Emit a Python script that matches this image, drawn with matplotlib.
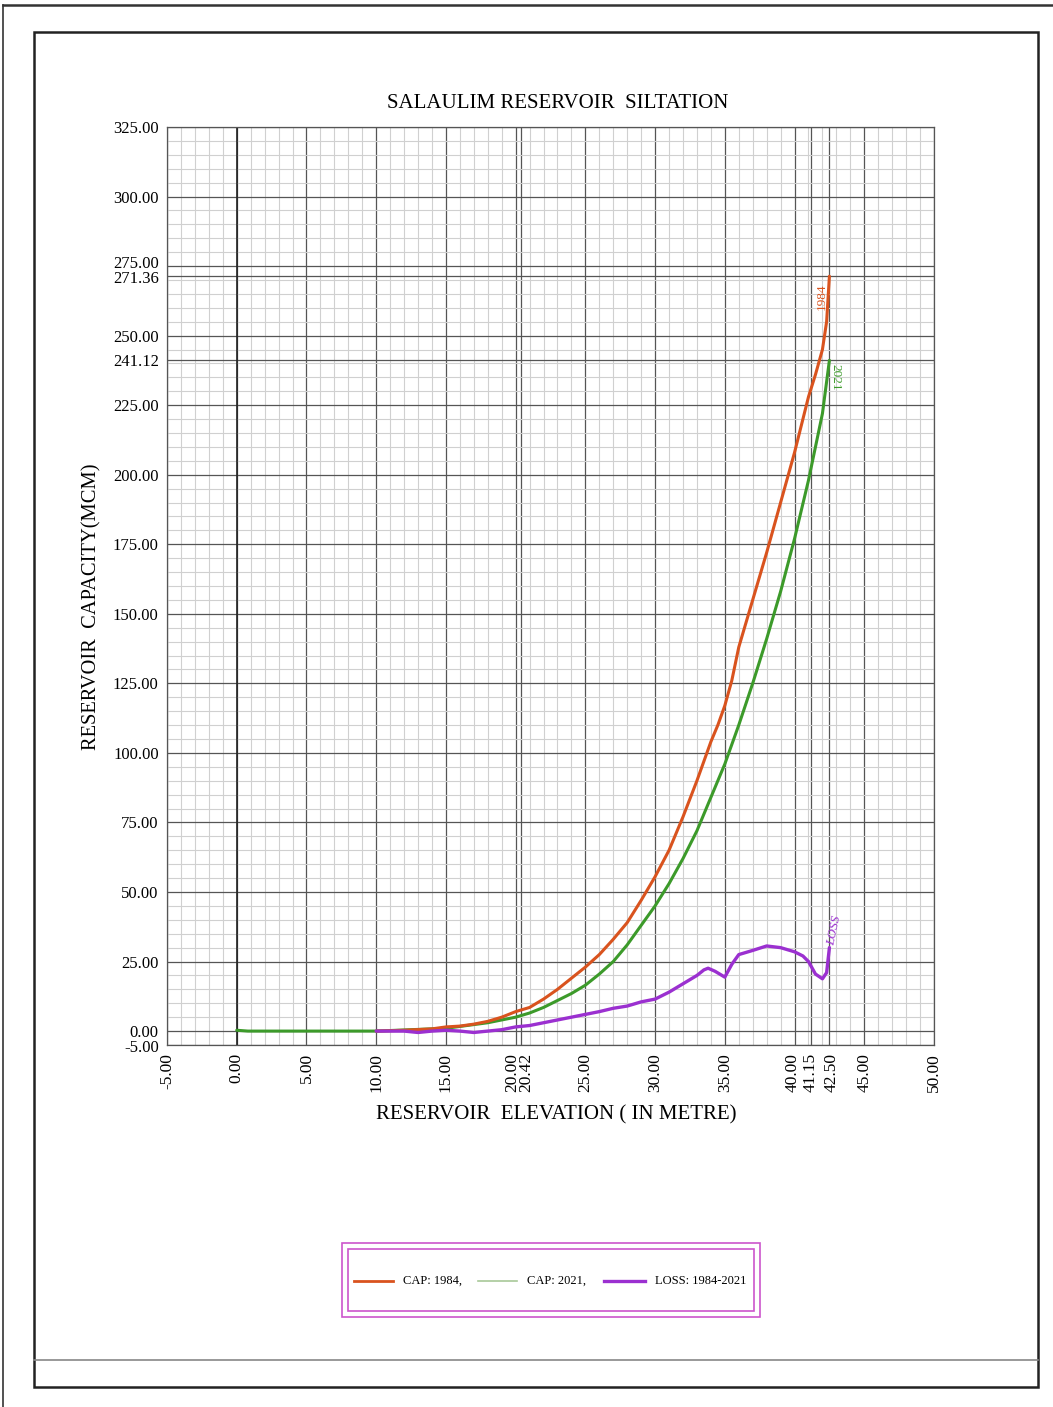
import numpy as np
import matplotlib.pyplot as plt
import matplotlib.transforms as mtransforms
from matplotlib.patches import Rectangle
from matplotlib.lines import Line2D

# Reservoir elevation (m) vs capacity (MCM)
elev_1984 = [10, 12, 14, 15, 16, 17, 18, 19, 20, 21, 22, 23, 24, 25, 26, 27, 28, 29, 30,
             31, 32, 33, 33.5, 34, 34.5, 35, 35.5, 36, 37, 38, 39, 40, 40.5, 41, 41.5, 42, 42.3, 42.5]
cap_1984 = [0, 0.3, 0.8, 1.5, 1.8, 2.5, 3.5, 5, 7, 8.5, 11.5, 15, 19, 23, 27.5, 33, 39, 47, 55.5,
            65, 77, 90, 97, 104, 110, 117, 126, 138, 155, 172, 190, 208, 218, 228, 236, 245, 255, 271.36]

elev_2021 = [0, 0.8, 10, 15, 18, 20, 21, 22, 23, 24, 25, 26, 27, 28, 29, 30,
             31, 32, 33, 34, 35, 36, 37, 38, 39, 40, 41, 42, 42.5]
cap_2021 = [0.3, 0, 0, 1, 3, 5, 6.5, 8.5, 11, 13.5, 16.5, 20.5, 25, 31, 38, 45,
            53, 62, 72, 84, 96, 110, 125, 141, 158, 177, 198, 222, 241.12]

elev_loss = [10, 12, 13, 14, 15, 16, 17, 18, 19, 20, 21, 22, 23, 24, 25, 26, 27, 28, 29, 30,
             31, 32, 33, 33.5, 33.8, 34.3, 35, 35.5, 36, 37, 38, 39, 40, 40.6, 41, 41.5, 42, 42.3, 42.5]
loss = [0, 0, -0.5, 0, 0.3, 0, -0.5, 0, 0.5, 1.5, 2, 3, 4, 5, 6, 7, 8.2, 9, 10.5, 11.5,
        14, 17, 20, 22, 22.6, 21.5, 19.4, 24, 27.5, 29, 30.6, 30, 28.5, 27, 25, 20.5, 18.8, 21, 30]

x_ticks = [-5, 0, 5, 10, 15, 20, 20.42, 25, 30, 35, 40, 41.15, 42.5, 45, 50]
y_ticks = [-5, 0, 25, 50, 75, 100, 125, 150, 175, 200, 225, 241.12, 250, 271.36, 275, 300, 325]

plt.rcParams['font.family'] = ['Liberation Serif', 'DejaVu Serif']

fig = plt.figure(figsize=(10.53, 14.07), dpi=100)
W, H = 1053, 1407

def px(x0, y0, x1, y1):
    return [x0 / W, 1 - y1 / H, (x1 - x0) / W, (y1 - y0) / H]

ax = fig.add_axes(px(167, 127, 934, 1045))
ax.set_xlim(-5, 50)
ax.set_ylim(-5, 325)

# grid
ax.set_xticks(np.arange(-5, 51, 1), minor=True)
ax.set_yticks(np.arange(-5, 326, 5), minor=True)
ax.set_xticks(x_ticks)
ax.set_yticks(y_ticks)
ax.set_xticklabels([f"{v:.2f}" for v in x_ticks], rotation=90, fontsize=12.5)
ax.set_yticklabels([f"{v:.2f}" for v in y_ticks], fontsize=12)
ax.tick_params(which='both', length=0, pad=6)
ax.grid(which='minor', color='#d0d0d0', linewidth=0.8)
ax.grid(which='major', color='#555555', linewidth=0.9)
ax.axvline(0, color='#222222', linewidth=1.2)
for s in ax.spines.values():
    s.set_color('#555555')
    s.set_linewidth(0.9)
ax.set_axisbelow(True)

# nudge crowded tick labels apart
def nudge(lab, dx, dy):
    lab.set_transform(lab.get_transform() + mtransforms.ScaledTranslation(dx / 100, dy / 100, fig.dpi_scale_trans))

xl = ax.get_xticklabels()
nudge(xl[x_ticks.index(20)], -3, 0)
nudge(xl[x_ticks.index(20.42)], 5, 0)
nudge(xl[x_ticks.index(40)], -2, 0)
nudge(xl[x_ticks.index(42.5)], 2, 0)
yl = ax.get_yticklabels()
nudge(yl[y_ticks.index(275)], 0, 4)
nudge(yl[y_ticks.index(271.36)], 0, -1)
nudge(yl[y_ticks.index(-5)], 0, -1)

c84, c21, closs = '#d9531e', '#3c9a2a', '#9b30d0'
kw = dict(solid_joinstyle='round', solid_capstyle='round')
ax.plot(elev_2021, cap_2021, color=c21, linewidth=2.2, **kw)
ax.plot(elev_1984, cap_1984, color=c84, linewidth=2.2, **kw)
ax.plot(elev_loss, loss, color=closs, linewidth=2.4, **kw)

ax.text(41.95, 264, "1984", color=c84, rotation=90, fontsize=9.5, ha='center', va='center')
ax.text(42.95, 235, "2021", color=c21, rotation=-90, fontsize=9.5, ha='center', va='center')
ax.text(42.85, 36, "LOSS", color=closs, rotation=78, fontsize=9.5, style='italic',
        ha='center', va='center')

fig.text(558 / W, 1 - 104 / H, "SALAULIM RESERVOIR  SILTATION", fontsize=15,
         ha='center', va='center')
fig.text(556 / W, 1 - 1115 / H, "RESERVOIR  ELEVATION ( IN METRE)", fontsize=15,
         ha='center', va='center')
fig.text(92 / W, 1 - 607 / H, "RESERVOIR  CAPACITY(MCM)", fontsize=14.8, rotation=90,
         ha='center', va='center')

# page frames
fig.patches.append(Rectangle((34 / W, 1 - 1387 / H), (1038 - 34) / W, (1387 - 32) / H,
                             transform=fig.transFigure, fill=False, edgecolor='#222222',
                             linewidth=1.8))
fig.lines.append(Line2D([34 / W, 1038 / W], [1 - 1360 / H] * 2, transform=fig.transFigure,
                        color='#888888', linewidth=1.2))
fig.lines.append(Line2D([3 / W, 1], [1 - 5 / H] * 2, transform=fig.transFigure,
                        color='#333333', linewidth=1.8))
fig.lines.append(Line2D([3 / W, 3 / W], [1 - 5 / H, 0], transform=fig.transFigure,
                        color='#333333', linewidth=1.2))

# legend box
lc = '#cc55cc'
fig.patches.append(Rectangle((342 / W, 1 - 1317 / H), 418 / W, 74 / H,
                             transform=fig.transFigure, fill=False, edgecolor=lc, linewidth=1.2))
fig.patches.append(Rectangle((348 / W, 1 - 1311 / H), 406 / W, 62 / H,
                             transform=fig.transFigure, fill=False, edgecolor=lc, linewidth=1.2))
ly = 1 - 1281 / H
entries = [(354, 393, c84, 2.0, "CAP: 1984,", 403),
           (478, 517, '#a8c898', 1.2, "CAP: 2021,", 527),
           (604, 645, closs, 2.4, "LOSS: 1984-2021", 655)]
for x0, x1, col, lw, lab, tx in entries:
    fig.lines.append(Line2D([x0 / W, x1 / W], [ly, ly], transform=fig.transFigure,
                            color=col, linewidth=lw))
    fig.text(tx / W, ly, lab, fontsize=9, ha='left', va='center')

fig.savefig("out.png", dpi=100)
